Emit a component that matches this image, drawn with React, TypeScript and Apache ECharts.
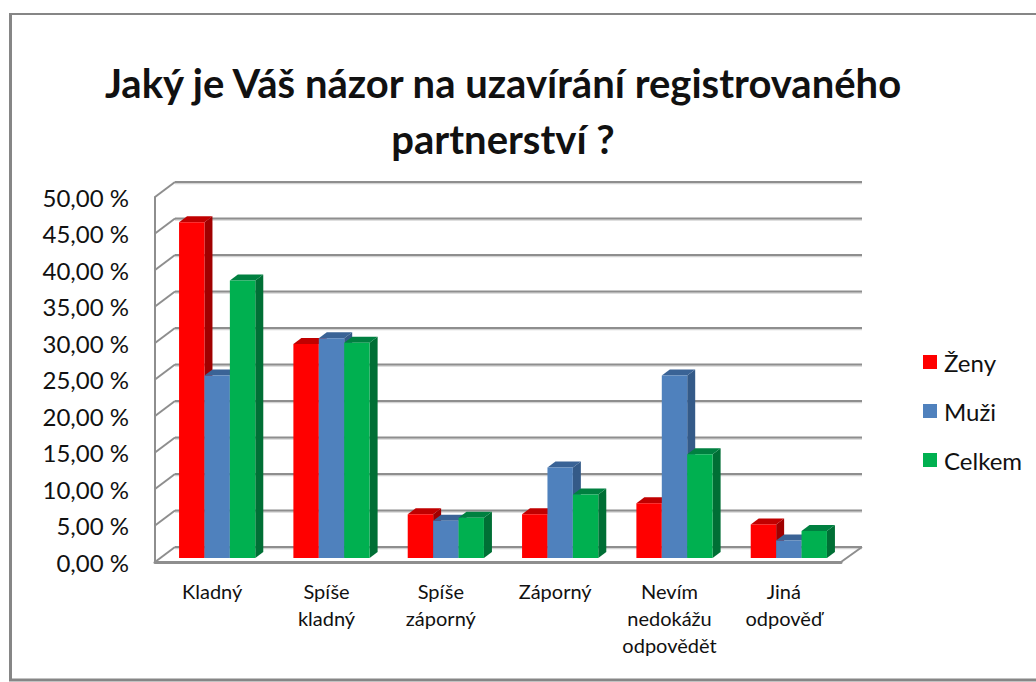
import React, { useEffect, useRef } from "react";
import * as echarts from "echarts";

const titleText = "Jaký je Váš názor na uzavírání registrovaného\npartnerství ?";
const categories = ["Kladný", "Spíše\nkladný", "Spíše\nzáporný", "Záporný", "Nevím\nnedokážu\nodpovědět", "Jiná\nodpověď"];
const yTicks = [0, 5, 10, 15, 20, 25, 30, 35, 40, 45, 50];
const zeny = [46.0, 29.3, 6.0, 6.0, 7.5, 4.6];
const muzi = [25.0, 30.1, 5.1, 12.4, 25.0, 2.4];
const celkem = [38.0, 29.5, 5.5, 8.7, 14.2, 3.7];

const FONT = "Lato";
const WALL_DX = 20;
const WALL_DY = 15;
const BAR_DX = 8;
const BAR_DY = 6;

const gridRender = (params: any, api: any) => {
  const cs = params.coordSys;
  const y = api.coord([0, api.value(1)])[1];
  const x0 = cs.x;
  const x1 = x0 + cs.width;
  const isFloor = api.value(1) === 0;
  const children: any[] = [
    { type: "line", shape: { x1: x0 + WALL_DX, y1: y - WALL_DY + 1.5, x2: x1 + WALL_DX + 1, y2: y - WALL_DY + 1.5 }, style: { stroke: "#d4d4d4", lineWidth: 1.5 } },
    { type: "line", shape: { x1: x0 + WALL_DX, y1: y - WALL_DY, x2: x1 + WALL_DX + 1, y2: y - WALL_DY }, style: { stroke: "#8e8e8e", lineWidth: 2 } },
    { type: "line", shape: { x1: x0, y1: y, x2: x0 + WALL_DX, y2: y - WALL_DY }, style: { stroke: "#8e8e8e", lineWidth: 2 } },
  ];
  if (isFloor) {
    children.push({ type: "line", shape: { x1: x1, y1: y, x2: x1 + WALL_DX + 1, y2: y - WALL_DY }, style: { stroke: "#8e8e8e", lineWidth: 2 } });
  }
  return { type: "group", silent: true, children };
};

const barRender = (offset: number, front: string, top: string, side: string) => (params: any, api: any) => {
  const i = api.value(0);
  const v = api.value(1);
  const band = api.size([1, 0])[0];
  const w = band / 4.5;
  const cx = api.coord([i, v])[0] + 5 + offset * w;
  const yTop = api.coord([i, v])[1] - 4;
  const yBase = api.coord([i, 0])[1] - 4;
  const l = cx - w / 2;
  const r = cx + w / 2;
  return {
    type: "group",
    children: [
      { type: "polygon", shape: { points: [[r, yTop], [r + BAR_DX, yTop - BAR_DY], [r + BAR_DX, yBase - BAR_DY], [r, yBase]] }, style: { fill: side } },
      { type: "polygon", shape: { points: [[l, yTop], [l + BAR_DX, yTop - BAR_DY], [r + BAR_DX, yTop - BAR_DY], [r, yTop]] }, style: { fill: top } },
      { type: "rect", shape: { x: l, y: yTop, width: w, height: yBase - yTop }, style: { fill: front } },
    ],
  };
};

const barSeries = (name: string, values: number[], offset: number, front: string, top: string, side: string) => ({
  name,
  type: "custom",
  coordinateSystem: "cartesian2d",
  encode: { x: 0, y: 1 },
  itemStyle: { color: front },
  data: values.map((v, i) => [i, v]),
  renderItem: barRender(offset, front, top, side),
});

export default function App() {
  const ref = useRef<HTMLDivElement>(null);
  useEffect(() => {
    const chart = echarts.init(ref.current!, undefined, { renderer: "svg" });
    chart.setOption({
      animation: false,
      backgroundColor: "#ffffff",
      title: {
        text: titleText,
        left: 498,
        top: 50,
        textAlign: "center",
        textStyle: { fontFamily: FONT, fontSize: 40, fontWeight: "bold", color: "#111111", lineHeight: 56 },
      },
      legend: {
        data: ["Ženy", "Muži", "Celkem"],
        orient: "vertical",
        left: 923,
        top: 349,
        padding: 0,
        itemWidth: 14,
        itemHeight: 14,
        itemGap: 23,
        icon: "rect",
        textStyle: { fontFamily: FONT, fontSize: 24, color: "#111111", lineHeight: 26, padding: [0, 0, 0, 2] },
      },
      grid: { left: 155, top: 197, width: 686, height: 365 },
      xAxis: {
        type: "category",
        data: categories,
        axisLine: { show: true, lineStyle: { color: "#8e8e8e", width: 3 } },
        axisTick: { show: false },
        axisLabel: { interval: 0, margin: 15, fontFamily: FONT, fontSize: 20, color: "#111111", lineHeight: 27 },
      },
      yAxis: {
        type: "value",
        min: 0,
        max: 50,
        interval: 5,
        axisLine: { show: true, lineStyle: { color: "#8e8e8e", width: 2 } },
        axisTick: { show: false },
        splitLine: { show: false },
        axisLabel: {
          margin: 26,
          fontFamily: FONT,
          fontSize: 24,
          color: "#111111",
          formatter: (v: number) => v.toFixed(2).replace(".", ",") + " %",
        },
      },
      series: [
        {
          name: "mřížka",
          type: "custom",
          coordinateSystem: "cartesian2d",
          encode: { x: 0, y: 1 },
          silent: true,
          data: yTicks.map((t) => [0, t]),
          renderItem: gridRender,
        },
        barSeries("Ženy", zeny, -1, "#ff0000", "#c00000", "#a00000"),
        barSeries("Muži", muzi, 0, "#4f81bd", "#3a6396", "#345a88"),
        barSeries("Celkem", celkem, 1, "#00b050", "#008040", "#006f35"),
      ],
      graphic: [
        { type: "line", shape: { x1: 10.5, y1: 14, x2: 1036, y2: 14 }, style: { stroke: "#868686", lineWidth: 2 } },
        { type: "line", shape: { x1: 10.5, y1: 13, x2: 10.5, y2: 681 }, style: { stroke: "#868686", lineWidth: 3 } },
        { type: "line", shape: { x1: 9, y1: 680, x2: 1036, y2: 680 }, style: { stroke: "#868686", lineWidth: 3 } },
      ],
    });
    return () => chart.dispose();
  }, []);
  return <div ref={ref} style={{ position: "absolute", left: 0, top: 0, width: 1036, height: 682 }} />;
}
